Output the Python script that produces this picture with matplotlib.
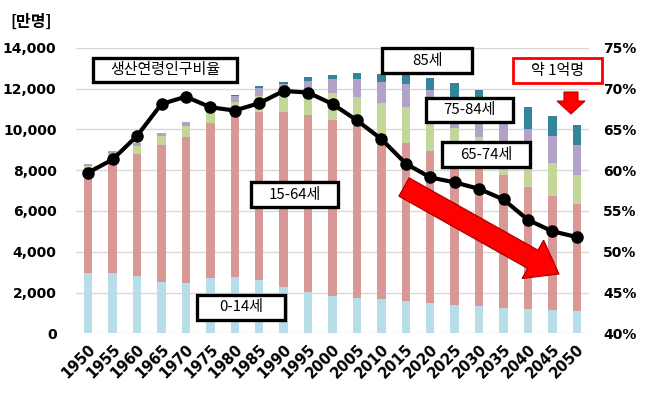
import matplotlib
matplotlib.use("Agg")
import matplotlib.pyplot as plt
from matplotlib.patches import Rectangle, Polygon
from matplotlib.ticker import FuncFormatter, MultipleLocator
import numpy as np

years = [1950, 1955, 1960, 1965, 1970, 1975, 1980, 1985, 1990, 1995, 2000,
         2005, 2010, 2015, 2020, 2025, 2030, 2035, 2040, 2045, 2050]
age_0_14 = [2943, 2980, 2807, 2517, 2482, 2722, 2751, 2603, 2249, 2001, 1847,
            1752, 1680, 1595, 1507, 1407, 1321, 1246, 1194, 1138, 1077]
age_15_64 = [4966, 5473, 6000, 6692, 7157, 7581, 7883, 8251, 8590, 8716, 8622,
             8409, 8103, 7728, 7406, 7170, 6875, 6494, 5978, 5584, 5275]
age_65_74 = [309, 348, 389, 442, 514, 606, 700, 773, 892, 1109, 1301,
             1407, 1517, 1752, 1747, 1497, 1428, 1522, 1554, 1633, 1430]
age_75_84 = [92, 112, 129, 155, 187, 234, 299, 382, 467, 564, 679,
             877, 1025, 1141, 1252, 1458, 1440, 1260, 1309, 1323, 1465]
age_85p = [11, 14, 18, 21, 32, 47, 66, 92, 130, 153, 224,
           293, 383, 494, 620, 722, 848, 1000, 1059, 966, 946]
working_ratio = [59.7, 61.3, 64.2, 68.1, 69.0, 67.7, 67.3, 68.2, 69.7, 69.5, 68.1,
                 66.1, 63.8, 60.8, 59.1, 58.5, 57.7, 56.4, 53.9, 52.5, 51.8]

series = [age_0_14, age_15_64, age_65_74, age_75_84, age_85p]
colors = ["#B7DEE8", "#D99795", "#C4D79B", "#B3A2C7", "#31869B"]

W, H = 654, 393
fig = plt.figure(figsize=(W / 100, H / 100), dpi=100)
ax = fig.add_axes([76 / W, 1 - 333.3 / H, (589 - 76) / W, (333.3 - 47.7) / H])
ax2 = ax.twinx()

x = np.arange(len(years))
bottom = np.zeros(len(years))
for s, c in zip(series, colors):
    ax.bar(x, s, bottom=bottom, width=0.34, color=c, zorder=2)
    bottom += np.array(s)

ax.set_ylim(0, 14000)
ax.set_xlim(-0.5, len(years) - 0.5)
ax.yaxis.set_major_locator(MultipleLocator(2000))
ax.yaxis.set_major_formatter(FuncFormatter(lambda v, p: f"{int(v):,}"))
ax.grid(axis="y", color="#D9D9D9", lw=1, zorder=0)
ax.set_axisbelow(True)
ax.set_xticks(x)
ax.set_xticklabels([str(y) for y in years], rotation=45, ha="right",
                   rotation_mode="anchor", fontsize=10.5, fontweight="bold")
ax.tick_params(axis="x", length=0, pad=6)
ax.tick_params(axis="y", length=0, pad=14, labelsize=10)
for t in ax.get_yticklabels():
    t.set_fontweight("bold")

ax2.plot(x, working_ratio, color="black", lw=3, marker="o", ms=8, zorder=5)
ax2.set_ylim(40, 75)
ax2.yaxis.set_major_locator(MultipleLocator(5))
ax2.yaxis.set_major_formatter(FuncFormatter(lambda v, p: f"{int(v)}%"))
ax2.tick_params(axis="y", length=0, pad=10, labelsize=10)
for t in ax2.get_yticklabels():
    t.set_fontweight("bold")

for a in (ax, ax2):
    for sp in a.spines.values():
        sp.set_visible(False)

KR = ["Noto Sans CJK KR", "DejaVu Sans"]

fig.text(10 / W, 1 - 22 / H, "[만명]", fontsize=11.5, fontweight="bold",
         family=KR, ha="left", va="center")


def px(xp, yp):
    return (xp / W, 1 - yp / H)


def box(x0, y0, x1, y1, text, ec="black", lw=2.4, fs=10.8):
    r = Rectangle(px(x0, y1), (x1 - x0) / W, (y1 - y0) / H, transform=fig.transFigure,
                  facecolor="white", edgecolor=ec, lw=lw, zorder=10)
    fig.add_artist(r)
    fig.text((x0 + x1) / 2 / W, 1 - (y0 + y1) / 2 / H, text, fontsize=fs, family=KR,
             ha="center", va="center", zorder=11)


box(93, 58, 237, 82, "생산연령인구비율")
box(382, 48, 472, 73, "85세")
box(426, 98, 513, 122, "75-84세")
box(442, 142, 530, 167, "65-74세")
box(251, 182, 338, 207, "15-64세")
box(197, 295, 285, 320, "0-14세")
box(513, 58, 602, 83, "약 1억명", ec="#FF0000", lw=2)

# big diagonal red arrow
tail = np.array([404.0, 187.0])
tip = np.array([559.0, 274.0])
d = tip - tail
L = np.hypot(*d)
u = d / L
n = np.array([-u[1], u[0]])
sw, hw, hl = 10.5, 22.0, 30.0
base = tip - u * hl
pts = [tail + n * sw, base + n * sw, base + n * hw, tip, base - n * hw, base - n * sw, tail - n * sw]
fig.add_artist(Polygon([px(*p) for p in pts], closed=True, transform=fig.transFigure,
                       facecolor="#FF0000", edgecolor="#A00000", lw=0.8, zorder=9))

# small red down arrow
dpts = [(564, 92), (578, 92), (578, 101), (585, 101), (571, 114), (557, 101), (564, 101)]
fig.add_artist(Polygon([px(*p) for p in dpts], closed=True, transform=fig.transFigure,
                       facecolor="#FF0000", edgecolor="#C00000", lw=0.8, zorder=9))

fig.savefig("out.png", dpi=100)
